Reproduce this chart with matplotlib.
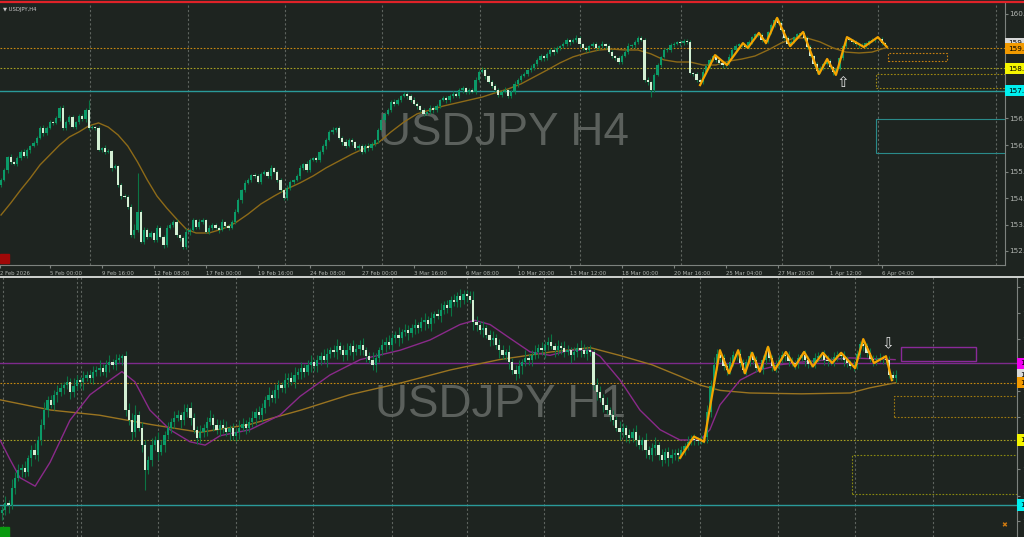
import numpy as np
import matplotlib
matplotlib.use("Agg")
import matplotlib.pyplot as plt
import matplotlib.transforms as mtransforms
from matplotlib.patches import Rectangle
from matplotlib.lines import Line2D

# ---------------- H4 panel data (bar index = position on chart) ----------------
h4_open0 = 154.72
h4_close = [
    154.89, 155.22, 155.65, 155.49, 155.42, 155.62, 155.82, 155.69, 155.89, 156.02, 156.12, 156.29, 156.62, 156.45, 156.62, 156.82, 156.79, 156.95, 157.29, 156.62,
    156.82, 156.99, 156.65, 156.82, 157.02, 156.92, 157.22, 156.62, 156.65, 156.62, 155.89, 155.95, 155.82, 155.85, 155.29, 155.35, 154.72, 154.35, 154.32, 153.99,
    153.05, 153.22, 153.82, 152.82, 153.22, 152.99, 153.12, 152.89, 153.29, 152.99, 152.72, 153.29, 153.39, 153.49, 153.05, 152.95, 152.65, 153.15, 153.22, 153.55,
    153.32, 153.49, 153.55, 153.15, 153.29, 153.39, 153.29, 153.22, 153.49, 153.35, 153.29, 153.49, 153.82, 154.22, 154.55, 154.79, 154.89, 155.05, 155.02, 154.82,
    155.09, 155.15, 155.02, 155.29, 155.15, 154.89, 154.55, 154.29, 154.62, 154.82, 154.89, 155.02, 155.29, 155.42, 155.22, 155.55, 155.62, 155.55, 155.82, 156.02,
    156.22, 156.49, 156.55, 156.62, 156.29, 156.15, 156.02, 156.22, 156.15, 155.95, 156.02, 155.82, 156.02, 155.95, 156.09, 156.22, 156.55, 156.89, 157.09, 157.22,
    157.49, 157.42, 157.55, 157.69, 157.75, 157.69, 157.55, 157.42, 157.35, 157.22, 157.09, 157.15, 157.29, 157.22, 157.35, 157.55, 157.62, 157.55, 157.69, 157.75,
    157.69, 157.89, 157.95, 157.82, 157.89, 157.82, 158.22, 158.49, 158.55, 158.35, 158.15, 158.02, 157.89, 157.72, 157.82, 157.89, 157.69, 157.82, 158.09, 158.22,
    158.35, 158.42, 158.55, 158.62, 158.75, 158.89, 159.02, 158.95, 159.09, 159.22, 159.15, 159.29, 159.35, 159.42, 159.55, 159.49, 159.55, 159.62, 159.42, 159.29,
    159.22, 159.35, 159.42, 159.29, 159.35, 159.42, 159.35, 159.15, 159.02, 158.95, 158.82, 159.02, 159.15, 159.35, 159.39, 159.49, 159.62, 159.55, 158.22, 158.15,
    157.89, 158.39, 158.72, 158.99, 159.22, 159.22, 159.39, 159.42, 159.49, 159.45, 159.52, 159.49, 158.45, 158.42, 158.22, 158.15, 158.49, 158.69, 158.89, 159.02,
    158.89, 158.79, 158.72, 158.79, 158.99, 159.22, 159.35, 159.42, 159.39, 159.32, 159.49, 159.65, 159.75, 159.72, 159.55, 159.49, 159.82, 160.05, 160.22, 160.12,
    159.89, 159.62, 159.42, 159.49, 159.65, 159.75, 159.79, 159.62, 159.32, 159.02, 158.75, 158.52, 158.62, 158.75, 158.85, 158.65, 158.49, 158.59, 158.95, 159.35,
    159.59, 159.55, 159.49, 159.42, 159.39, 159.36, 159.45, 159.52, 159.55, 159.59, 159.60, 159.45, 159.38]
# wick lengths in hundredths of a yen
h4_up = [
    6, 8, 5, 9, 4, 7, 5, 10, 6, 4, 8, 5, 6, 9, 5, 7, 4, 6, 5, 8,
    6, 5, 7, 4, 6, 8, 5, 33, 6, 4, 7, 5, 9, 6, 4, 8, 5, 6, 7, 5,
    8, 20, 130, 6, 9, 5, 7, 4, 10, 6, 5, 8, 6, 5, 9, 4, 6, 12, 5, 7,
    5, 8, 6, 4, 9, 5, 7, 6, 8, 4, 6, 5, 10, 7, 5, 9, 6, 4, 8, 6,
    5, 7, 6, 9, 4, 8, 6, 5, 10, 7, 4, 6, 8, 5, 9, 6, 4, 7, 5, 8,
    6, 5, 9, 4, 7, 6, 10, 5, 8, 4, 6, 7, 5, 9, 6, 4, 8, 5, 7, 6,
    5, 9, 6, 4, 8, 7, 5, 10, 6, 4, 7, 5, 9, 6, 8, 4, 6, 5, 7, 9,
    6, 5, 8, 4, 7, 6, 9, 5, 10, 6, 4, 8, 5, 7, 6, 9, 4, 6, 8, 5,
    7, 6, 4, 9, 5, 8, 6, 4, 7, 5, 9, 6, 4, 8, 6, 5, 7, 10, 6, 4,
    8, 5, 7, 6, 4, 9, 5, 6, 8, 4, 7, 5, 6, 9, 4, 6, 5, 8, 6, 9,
    5, 7, 6, 4, 8, 5, 6, 7, 4, 6, 5, 8, 6, 4, 7, 5, 9, 6, 8, 3,
    5, 7, 4, 6, 8, 5, 6, 4, 7, 4, 6, 5, 4, 7, 5, 6, 5, 7, 7, 6,
    5, 4, 7, 6, 5, 4, 3, 6, 5, 7, 4, 6, 5, 4, 6, 7, 5, 6, 4, 5,
    4, 6, 5, 7, 4, 6, 5, 4, 6, 4, 3, 5, 4]
h4_dn = [
    7, 5, 9, 6, 4, 8, 6, 5, 7, 9, 4, 6, 5, 8, 6, 4, 7, 5, 9, 6,
    5, 8, 4, 6, 7, 5, 9, 6, 4, 8, 5, 6, 7, 4, 9, 5, 6, 8, 4, 7,
    6, 9, 8, 3, 5, 7, 4, 8, 6, 5, 10, 6, 4, 7, 5, 9, 5, 6, 8, 4,
    6, 5, 8, 4, 7, 6, 5, 9, 4, 6, 8, 5, 7, 4, 9, 6, 5, 7, 6, 4,
    8, 5, 6, 9, 4, 7, 5, 8, 6, 5, 7, 4, 9, 6, 5, 8, 4, 7, 6, 5,
    9, 4, 6, 7, 5, 8, 6, 4, 9, 5, 7, 6, 4, 8, 5, 6, 9, 4, 7, 5,
    6, 8, 4, 7, 5, 9, 6, 4, 8, 5, 7, 4, 6, 9, 5, 6, 4, 8, 5, 7,
    4, 6, 9, 5, 7, 4, 8, 6, 5, 9, 4, 7, 6, 5, 8, 4, 6, 7, 5, 9,
    6, 4, 8, 5, 7, 6, 4, 9, 5, 6, 8, 4, 7, 5, 6, 9, 4, 5, 7, 6,
    5, 8, 4, 6, 7, 5, 9, 4, 6, 5, 8, 7, 4, 6, 5, 9, 6, 4, 7, 8,
    24, 6, 5, 8, 4, 7, 5, 6, 4, 8, 5, 6, 4, 7, 5, 10, 6, 4, 7, 5,
    6, 4, 9, 5, 7, 4, 6, 5, 8, 4, 5, 6, 4, 7, 5, 6, 4, 5, 6, 4,
    5, 6, 4, 7, 5, 6, 4, 5, 6, 4, 7, 10, 5, 6, 4, 5, 10, 6, 4, 5,
    6, 4, 7, 5, 9, 4, 6, 5, 4, 6, 5, 7, 4]

h4_ma_bar = [0, 3, 6, 9, 12, 15, 18, 21, 24, 27, 30, 33, 36, 39, 42, 45, 48, 51, 54, 57, 60,
             64, 68, 72, 76, 80, 84, 88, 92, 96, 100, 104, 108, 112, 116, 120, 124, 128, 132, 136,
             140, 144, 148, 152, 156, 160, 164, 168, 172, 176, 180, 184, 188, 192, 196, 200, 204,
             208, 212, 216, 220, 224, 228, 232, 236, 240, 244, 248, 252, 256, 260, 264, 268, 272]
h4_ma = [153.72, 154.12, 154.55, 154.95, 155.39, 155.72, 156.05, 156.32, 156.49, 156.69, 156.79,
         156.65, 156.39, 156.02, 155.49, 154.89, 154.35, 153.95, 153.59, 153.25, 153.12,
         153.12, 153.25, 153.45, 153.75, 154.09, 154.35, 154.59, 154.79, 155.02, 155.29, 155.52,
         155.75, 155.95, 156.12, 156.49, 156.82, 157.09, 157.22, 157.35, 157.45, 157.55, 157.65,
         157.79, 157.92, 158.09, 158.32, 158.55, 158.79, 158.99, 159.12, 159.22, 159.25, 159.22,
         159.22, 159.09, 158.89, 158.82, 158.82, 158.72, 158.72, 158.85, 158.92, 159.02, 159.22,
         159.45, 159.62, 159.62, 159.49, 159.29, 159.15, 159.12, 159.15, 159.29]

h4_zz_bar = [215.1, 219.7, 223.4, 228.3, 229.8, 233.2, 235.4, 238.8, 242.8, 246.8, 251.7, 254.2,
             256.9, 260.3, 265.5, 269.8, 272.6]
h4_zz = [158.05, 159.05, 158.72, 159.45, 159.29, 159.79, 159.45, 160.29, 159.35, 159.82, 158.42,
         158.92, 158.39, 159.65, 159.32, 159.65, 159.32]

h4_date_bar = [-0.3, 15, 31, 47, 63, 79, 95, 111, 127, 143, 159, 175, 191, 207, 223, 239, 255, 271]
h4_date_lbl = ["2 Feb 2026", "5 Feb 00:00", "9 Feb 16:00", "12 Feb 08:00", "17 Feb 00:00",
               "19 Feb 16:00", "24 Feb 08:00", "27 Feb 00:00", "3 Mar 16:00", "6 Mar 08:00",
               "10 Mar 20:00", "13 Mar 12:00", "18 Mar 00:00", "20 Mar 16:00", "25 Mar 04:00",
               "27 Mar 20:00", "1 Apr 12:00", "6 Apr 04:00"]
h4_grid = [27.4, 57.5, 87.4, 117.2, 147.4, 178.2, 209.2, 240.3, 269.8, 306.2]
h4_yticks = [160.42, 159.55, 158.68, 157.81, 156.94, 156.05, 155.17, 154.28, 153.40, 152.52]

# ---------------- H1 panel data ----------------
h1_open0 = 157.77
h1_close = [
    157.80, 157.88, 157.86, 158.06, 158.18, 158.27, 158.29, 158.25, 158.41, 158.50, 158.44, 158.62, 158.80, 158.97, 159.09, 159.03, 159.15, 159.18, 159.23, 159.26,
    159.30, 159.18, 159.25, 159.32, 159.30, 159.35, 159.38, 159.35, 159.42, 159.44, 159.46, 159.42, 159.50, 159.53, 159.50, 159.56, 159.58, 159.60, 158.97, 158.85,
    158.71, 158.91, 158.76, 158.56, 158.27, 158.39, 158.56, 158.62, 158.48, 158.56, 158.68, 158.76, 158.83, 158.88, 158.91, 158.85, 158.95, 158.99, 158.88, 158.74,
    158.64, 158.71, 158.76, 158.83, 158.88, 158.80, 158.74, 158.80, 158.76, 158.71, 158.76, 158.67, 158.71, 158.76, 158.81, 158.76, 158.83, 158.88, 158.95, 158.91,
    158.99, 159.09, 159.15, 159.11, 159.20, 159.26, 159.23, 159.32, 159.35, 159.30, 159.38, 159.42, 159.46, 159.42, 159.50, 159.53, 159.48, 159.56, 159.60, 159.56,
    159.63, 159.67, 159.65, 159.72, 159.67, 159.61, 159.67, 159.72, 159.65, 159.69, 159.73, 159.67, 159.60, 159.56, 159.50, 159.58, 159.67, 159.73, 159.77, 159.73,
    159.81, 159.85, 159.81, 159.88, 159.91, 159.87, 159.93, 159.96, 159.93, 160.00, 160.02, 159.98, 160.05, 160.09, 160.07, 160.14, 160.20, 160.16, 160.26, 160.23,
    160.30, 160.26, 160.33, 160.30, 160.26, 160.00, 159.96, 159.91, 159.93, 159.85, 159.79, 159.81, 159.73, 159.67, 159.61, 159.65, 159.53, 159.44, 159.39, 159.48,
    159.53, 159.58, 159.56, 159.61, 159.65, 159.70, 159.67, 159.73, 159.77, 159.72, 159.67, 159.72, 159.70, 159.65, 159.67, 159.61, 159.65, 159.70, 159.67, 159.63,
    159.67, 159.65, 159.26, 159.18, 159.11, 159.03, 158.97, 158.91, 158.85, 158.76, 158.71, 158.76, 158.68, 158.64, 158.71, 158.62, 158.56, 158.62, 158.50, 158.44,
    158.53, 158.56, 158.44, 158.39, 158.48, 158.41, 158.44, 158.47, 158.45, 158.50, 158.55, 158.60, 158.63, 158.62, 158.61, 158.63, 158.65, 158.95, 159.25, 159.50,
    159.62, 159.58, 159.48, 159.44, 159.53, 159.61, 159.63, 159.52, 159.44, 159.53, 159.60, 159.55, 159.46, 159.45, 159.56, 159.66, 159.58, 159.48, 159.50, 159.56,
    159.61, 159.60, 159.54, 159.52, 159.51, 159.58, 159.61, 159.55, 159.51, 159.52, 159.58, 159.60, 159.61, 159.56, 159.54, 159.55, 159.59, 159.61, 159.60, 159.55,
    159.52, 159.49, 159.50, 159.62, 159.74, 159.72, 159.64, 159.57, 159.55, 159.57, 159.58, 159.57, 159.56, 159.38, 159.35, 159.38]
h1_up = [
    5, 8, 4, 10, 6, 7, 5, 9, 4, 6, 8, 5, 7, 9, 4, 6, 5, 8, 6, 4,
    7, 5, 9, 6, 4, 8, 5, 6, 7, 4, 9, 5, 6, 8, 4, 7, 5, 3, 6, 8,
    9, 12, 5, 7, 6, 4, 8, 5, 9, 6, 4, 7, 5, 8, 6, 4, 9, 5, 7, 6,
    4, 8, 5, 6, 9, 4, 7, 5, 6, 8, 4, 6, 5, 9, 7, 4, 6, 8, 5, 7,
    6, 4, 9, 5, 7, 6, 4, 8, 5, 6, 9, 4, 7, 5, 6, 8, 4, 6, 5, 9,
    7, 4, 6, 8, 5, 6, 9, 4, 7, 5, 6, 8, 4, 5, 9, 6, 4, 7, 5, 8,
    6, 5, 9, 4, 7, 6, 5, 8, 4, 6, 9, 5, 7, 4, 6, 8, 5, 6, 4, 7,
    5, 9, 4, 4, 6, 10, 7, 5, 8, 4, 6, 9, 5, 7, 6, 4, 8, 5, 6, 7,
    4, 9, 5, 6, 8, 4, 7, 5, 6, 9, 4, 7, 5, 8, 6, 4, 6, 5, 9, 7,
    5, 6, 4, 8, 7, 5, 9, 4, 6, 5, 8, 6, 4, 7, 5, 9, 6, 4, 8, 5,
    6, 9, 4, 7, 5, 6, 8, 4, 6, 5, 4, 7, 5, 6, 4, 5, 6, 8, 7, 9,
    6, 7, 5, 4, 6, 5, 3, 6, 5, 4, 6, 5, 5, 4, 6, 5, 5, 4, 6, 5,
    5, 4, 6, 5, 4, 5, 4, 6, 5, 4, 6, 5, 4, 6, 5, 4, 6, 5, 4, 6,
    5, 4, 6, 5, 4, 5, 4, 6, 5, 4, 6, 4, 3, 4, 5, 6]
h1_dn = [
    8, 6, 9, 5, 7, 4, 8, 6, 5, 9, 4, 7, 6, 5, 8, 4, 6, 9, 5, 7,
    4, 8, 6, 5, 7, 9, 4, 6, 8, 5, 7, 4, 6, 9, 5, 6, 4, 8, 7, 5,
    9, 6, 4, 8, 23, 5, 7, 6, 9, 4, 8, 5, 6, 7, 4, 9, 5, 6, 8, 4,
    7, 5, 6, 9, 4, 8, 5, 7, 6, 4, 9, 5, 6, 8, 4, 7, 5, 6, 9, 4,
    8, 5, 7, 4, 6, 9, 5, 6, 8, 4, 7, 5, 9, 6, 4, 8, 5, 7, 6, 4,
    9, 5, 6, 8, 4, 7, 5, 6, 9, 4, 8, 5, 7, 4, 6, 9, 5, 6, 8, 4,
    7, 5, 9, 6, 4, 8, 5, 7, 6, 4, 9, 5, 8, 6, 4, 7, 5, 6, 9, 4,
    6, 8, 5, 7, 4, 9, 6, 5, 8, 4, 7, 6, 5, 9, 4, 6, 8, 5, 7, 4,
    9, 5, 6, 8, 4, 7, 5, 9, 6, 4, 8, 5, 7, 6, 4, 9, 5, 6, 8, 4,
    7, 5, 6, 9, 4, 8, 5, 7, 6, 4, 9, 5, 8, 6, 4, 7, 5, 6, 9, 4,
    6, 8, 5, 7, 4, 9, 6, 5, 7, 4, 6, 5, 4, 6, 5, 4, 5, 7, 6, 5,
    6, 5, 4, 6, 5, 4, 6, 5, 4, 6, 5, 4, 5, 4, 6, 5, 4, 5, 6, 5,
    4, 6, 5, 4, 6, 5, 4, 6, 5, 4, 6, 5, 4, 6, 5, 4, 6, 5, 4, 6,
    5, 4, 6, 5, 4, 6, 5, 4, 6, 5, 4, 6, 5, 4, 3, 5]

h1_slow_bar = [-0.6, 15, 30, 46, 61, 76, 92, 107, 123, 138, 153, 169, 181, 190, 200, 209, 215,
               221, 230, 246, 261, 267, 275]
h1_slow = [159.09, 158.97, 158.91, 158.80, 158.71, 158.80, 158.97, 159.15, 159.29, 159.44, 159.56,
           159.65, 159.70, 159.61, 159.50, 159.36, 159.26, 159.20, 159.17, 159.16, 159.17, 159.23, 159.29]
h1_fast_bar = [-0.6, 2.5, 5.5, 10.2, 14.8, 20.9, 27.1, 33.2, 36.9, 40.9, 45.5, 51.7, 57.8, 62.5,
               67.1, 76.3, 85.5, 91.7, 100.9, 110.2, 122.5, 131.7, 140.9, 145.5, 150.2, 156.3,
               162.5, 168.6, 174.8, 180.9, 184, 190.2, 196.3, 202.5, 208.6, 214.8, 217.8, 220.9,
               227.1, 233.2, 239.4, 245.5, 260.9, 274.8]
h1_fast = [158.62, 158.39, 158.18, 158.08, 158.36, 158.85, 159.15, 159.32, 159.42, 159.30, 158.97,
           158.74, 158.60, 158.56, 158.67, 158.74, 158.91, 159.13, 159.38, 159.56, 159.67, 159.79,
           159.97, 160.02, 159.97, 159.81, 159.65, 159.61, 159.67, 159.67, 159.60, 159.32, 158.97,
           158.74, 158.62, 158.62, 158.74, 159.03, 159.32, 159.44, 159.50, 159.53, 159.58, 159.56]

h1_zz_bar = [208.6, 212.9, 216, 220.9, 223.7, 226.5, 228.6, 230.8, 233.2, 235.7, 237.8, 241.2, 244,
             246.8, 249.5, 252.6, 255.4, 258.2, 262.5, 265, 268.3, 272, 273.8]
h1_zz = [158.41, 158.66, 158.60, 159.67, 159.40, 159.67, 159.40, 159.64, 159.42, 159.71, 159.44,
         159.65, 159.48, 159.65, 159.48, 159.64, 159.52, 159.64, 159.46, 159.80, 159.52, 159.60, 159.32]
h1_grid = [0.3, 23.1, 24.3, 48, 72, 95.7, 120, 143.1, 166.8, 190.8, 214.8, 238.8, 262.5, 286.5]
h1_yticks = [160.41, 160.10, 159.80, 159.50, 159.19, 158.89, 158.58, 158.28, 157.97, 157.67]

# levels shared by both panels
lvl_orange = 159.29
lvl_yellow = 158.62
lvl_cyan = 157.86
lvl_purple = 159.52

BG = "#1e2420"
BULL = "#0b9a68"
BEAR = "#d4efd4"
WICK = "#0b7444"
GRID = "#5e645f"
TXT = "#b0b4b0"

W, H = 1024, 537
fig = plt.figure(figsize=(W / 100, H / 100), dpi=100, facecolor=BG)

ax1 = fig.add_axes([0, (H - 265) / H, 1005 / W, 262 / H], facecolor=BG)
ax2 = fig.add_axes([0, 0, 1017 / W, 260 / H], facecolor=BG)

ax1.set_xlim(-1 / 3.25, 1004 / 3.25)
ax1.set_ylim(160.42 - 251 / 30, 160.42 + 11 / 30)
ax2.set_xlim(-2 / 3.25, 1015 / 3.25)
ax2.set_ylim(158.62 - 97 / 85.5, 158.62 + 163 / 85.5)


def draw_candles(ax, open0, close, up, dn, minh):
    c = np.array(close)
    o = np.concatenate([[open0], c[:-1]])
    x = np.arange(len(c))
    top = np.maximum(o, c)
    bot = np.minimum(o, c)
    hi = top + np.array(up) / 100
    lo = bot - np.array(dn) / 100
    ax.vlines(x, lo, hi, color=WICK, lw=0.8, zorder=4)
    bull = c >= o
    h = np.maximum(top - bot, minh)
    ax.bar(x[bull], h[bull], bottom=bot[bull], width=0.64, color=BULL, lw=0, zorder=5)
    ax.bar(x[~bull], h[~bull], bottom=bot[~bull], width=0.64, color=BEAR, lw=0, zorder=5)


def price_box(ax, axw, price, text, fc, z=10):
    tr = mtransforms.blended_transform_factory(ax.transAxes, ax.transData)
    ax.text(1 + 3 / axw, price, text, transform=tr, ha="left", va="center", fontsize=5.2,
            color="#000000", clip_on=False, zorder=z,
            bbox=dict(boxstyle="square,pad=0.35", fc=fc, ec="none"))


for ax in (ax1, ax2):
    for s in ("top", "left"):
        ax.spines[s].set_visible(False)
    ax.spines["right"].set_color("#7d827e")
    ax.yaxis.tick_right()
    ax.tick_params(axis="y", colors="#7d827e", labelcolor=TXT, labelsize=5.2, length=2, pad=1)

ax1.spines["bottom"].set_color("#7d827e")
ax2.spines["bottom"].set_visible(False)

# ---- H4 panel ----
for g in h4_grid:
    ax1.axvline(g, color=GRID, lw=0.8, ls=(0, (2, 2)), zorder=1)
ax1.text(0.5005, 0.504, "USDJPY H4", transform=ax1.transAxes, ha="center", va="center",
         fontsize=33, family="Liberation Sans", color="#5b605c", zorder=0.5)
ax1.axhline(lvl_orange, color="#c88a10", lw=0.8, ls=(0, (1.5, 1.5)), zorder=2)
ax1.axhline(lvl_yellow, color="#a8a020", lw=0.8, ls=(0, (1.5, 1.5)), zorder=2)
ax1.axhline(lvl_cyan, color="#2a9a9a", lw=1.0, zorder=2)
ax1.add_patch(Rectangle((272.9, 158.85), 18.2, 0.27, fill=False, ec="#c88010", lw=0.8,
                        ls=(0, (1.5, 1.5)), zorder=2))
ax1.add_patch(Rectangle((269.2, 157.95), 45, 0.47, fill=False, ec="#a08a10", lw=0.8,
                        ls=(0, (1.5, 1.5)), zorder=2))
ax1.add_patch(Rectangle((269.2, 155.79), 45, 1.13, fill=False, ec="#2a8a8a", lw=0.8, zorder=2))
ax1.plot(h4_ma_bar, h4_ma, color="#8d6a18", lw=1.0, zorder=3)
draw_candles(ax1, h4_open0, h4_close, h4_up, h4_dn, 0.025)
ax1.plot(h4_zz_bar, h4_zz, color="#f5a300", lw=1.6, zorder=6)
ax1.text(259.1, 158.15, "\u21e7", ha="center", va="center", fontsize=11, color="#e4e4e4",
         family="DejaVu Sans", zorder=7)
ax1.text(0.003, 0.985, "\u25bc USDJPY,H4", transform=ax1.transAxes, ha="left", va="top",
         fontsize=3.8, color="#c8c8c8")

ax1.set_xticks(h4_date_bar)
ax1.set_xticklabels(h4_date_lbl)
ax1.tick_params(axis="x", colors="#7d827e", labelcolor=TXT, labelsize=3.9, length=2.5, pad=1.5)
for lab in ax1.get_xticklabels():
    lab.set_ha("left")
ax1.set_yticks(h4_yticks)
ax1.set_yticklabels([f"{v:.2f}" for v in h4_yticks])

price_box(ax1, 1005, h4_close[-1] + 0.06, f"{h4_close[-1]:.2f}", "#d8d8d8", z=10)
price_box(ax1, 1005, lvl_orange - 0.03, f"{lvl_orange:.2f}", "#f29a00", z=11)
price_box(ax1, 1005, lvl_yellow - 0.03, f"{lvl_yellow:.2f}", "#f5f500", z=11)
price_box(ax1, 1005, lvl_cyan, f"{lvl_cyan:.2f}", "#00f0f0", z=11)

# ---- H1 panel ----
for g in h1_grid:
    ax2.axvline(g, color=GRID, lw=0.8, ls=(0, (2, 2)), zorder=1)
ax2.text(0.4917, 0.508, "USDJPY H1", transform=ax2.transAxes, ha="center", va="center",
         fontsize=33, family="Liberation Sans", color="#5b605c", zorder=0.5)
ax2.axhline(lvl_purple, color="#7e2a8c", lw=1.0, zorder=2)
ax2.axhline(lvl_orange, color="#c88a10", lw=0.8, ls=(0, (1.5, 1.5)), zorder=2)
ax2.axhline(lvl_yellow, color="#a8a020", lw=0.8, ls=(0, (1.5, 1.5)), zorder=2)
ax2.axhline(lvl_cyan, color="#2a9a9a", lw=1.0, zorder=2)
ax2.add_patch(Rectangle((276.6, 159.54), 23.1, 0.17, fill=False, ec="#8a2a9a", lw=1.0, zorder=2))
ax2.add_patch(Rectangle((274.5, 158.89), 45, 0.24, fill=False, ec="#a07a10", lw=0.8,
                        ls=(0, (1.5, 1.5)), zorder=2))
ax2.add_patch(Rectangle((261.5, 157.99), 60, 0.45, fill=False, ec="#8a8a10", lw=0.8,
                        ls=(0, (1.5, 1.5)), zorder=2))
ax2.plot(h1_slow_bar, h1_slow, color="#9a7420", lw=1.0, zorder=3)
ax2.plot(h1_fast_bar, h1_fast, color="#8a2a8a", lw=1.0, zorder=3)
draw_candles(ax2, h1_open0, h1_close, h1_up, h1_dn, 0.012)
ax2.plot(h1_zz_bar, h1_zz, color="#f5a300", lw=1.6, zorder=6)
ax2.text(272.6, 159.75, "\u21e9", ha="center", va="center", fontsize=11, color="#e4e4e4",
         family="DejaVu Sans", zorder=7)

ax2.set_xticks([])
ax2.set_yticks(h1_yticks)
ax2.set_yticklabels([f"{v:.2f}" for v in h1_yticks])
ax2.tick_params(axis="y", pad=2)

price_box(ax2, 1017, lvl_purple, f"{lvl_purple:.2f}", "#f000f0", z=11)
price_box(ax2, 1017, h1_close[-1], f"{h1_close[-1]:.2f}", "#d8d8d8", z=10)
price_box(ax2, 1017, lvl_orange, f"{lvl_orange:.2f}", "#f29a00", z=11)
price_box(ax2, 1017, lvl_yellow, f"{lvl_yellow:.2f}", "#f5f500", z=11)
price_box(ax2, 1017, lvl_cyan, f"{lvl_cyan:.2f}", "#00f0f0", z=11)

# ---- frame decorations ----
fig.add_artist(Line2D([0, 1], [1 - 0.5 / H, 1 - 0.5 / H], color="#707070", lw=0.8))
fig.add_artist(Line2D([0, 1], [1 - 2.2 / H, 1 - 2.2 / H], color="#e02228", lw=1.6))
fig.add_artist(Line2D([0, 1], [1 - 276.5 / H, 1 - 276.5 / H], color="#cfd2cf", lw=1.4))
fig.add_artist(Rectangle((0, (H - 263) / H), 9 / W, 9 / H, transform=fig.transFigure,
                         color="#a00808", zorder=20))
fig.add_artist(Rectangle((0, 0), 9 / W, 10 / H, transform=fig.transFigure,
                         color="#0a9a10", zorder=20))
fig.text(1004 / W, (H - 525) / H, "\u2716", ha="center", va="center", fontsize=5,
         color="#d07a10", family="DejaVu Sans")

fig.savefig("out.png", dpi=100, facecolor=BG)
